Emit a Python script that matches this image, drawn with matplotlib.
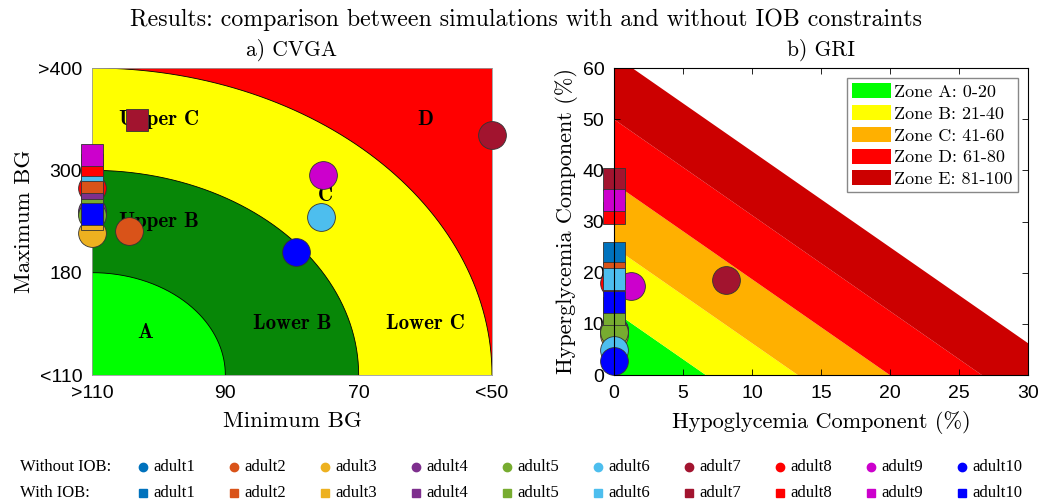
import numpy as np
import matplotlib
matplotlib.use("Agg")
import matplotlib.pyplot as plt
from matplotlib.patches import Polygon, Patch

# ---------------- data ----------------
subjects = ["adult1", "adult2", "adult3", "adult4", "adult5",
            "adult6", "adult7", "adult8", "adult9", "adult10"]
colors = ["#0072BD", "#D95319", "#EDB120", "#7E2F8E", "#77AC30",
          "#4DBEEE", "#A2142F", "#FF0000", "#CC00CC", "#0000FF"]

# CVGA in normalised units (0 = ">110"/"<110", 3 = "<50"/">400")
cvga_xticklabels = [">110", "90", "70", "<50"]
cvga_yticklabels = ["<110", "180", "300", ">400"]
cvga_x_without = [0.00, 0.28, 0.00, 0.00, 0.00, 1.72, 3.00, 0.00, 1.73, 1.53]
cvga_y_without = [1.58, 1.41, 1.39, 1.60, 1.56, 1.54, 2.35, 1.83, 1.95, 1.20]
cvga_x_with = [0.00, 0.00, 0.00, 0.00, 0.00, 0.00, 0.34, 0.00, 0.00, 0.00]
cvga_y_with = [1.59, 1.84, 1.52, 1.67, 1.61, 2.00, 2.49, 2.05, 2.145, 1.57]
cvga_zone_radii = [3, 2, 1]
cvga_zone_colors = ["#FFFF00", "#078707", "#00FF00"]
cvga_zone_text = ["A", "Lower B", "Lower C", "Upper B", "Upper C", "C", "D"]
cvga_zone_text_xy = [(0.4, 0.42), (1.5, 0.5), (2.5, 0.5), (0.5, 1.5),
                     (0.5, 2.5), (1.75, 1.75), (2.5, 2.5)]

# GRI components (%)
gri_hypo_without = [0.0, 0.0, 0.0, 0.0, 0.0, 0.0, 8.1, 0.0, 1.2, 0.0]
gri_hyper_without = [8.6, 8.8, 7.9, 8.7, 8.4, 4.9, 18.6, 18.0, 17.3, 2.7]
gri_hypo_with = [0.0, 0.0, 0.0, 0.0, 0.0, 0.0, 0.0, 0.0, 0.0, 0.0]
gri_hyper_with = [23.8, 19.9, 12.5, 13.0, 11.9, 18.75, 38.4, 31.6, 34.2, 14.3]
gri_zone_bounds = [0, 20, 40, 60, 80, 100]
gri_zone_labels = ["Zone A: 0-20", "Zone B: 21-40", "Zone C: 41-60",
                   "Zone D: 61-80", "Zone E: 81-100"]
gri_zone_colors = ["#00FF00", "#FFFF00", "#FFB000", "#FF0000", "#CC0000"]

# ---------------- figure ----------------
SERIF = "cmr10"
SERIF_B = "cmb10"
SANS = "Liberation Sans"
plt.rcParams["axes.unicode_minus"] = False

fig = plt.figure(figsize=(10.4, 5.04), dpi=100)
W, H = 1040, 504

def box(x0, y0, x1, y1):
    return [x0 / W, 1 - y1 / H, (x1 - x0) / W, (y1 - y0) / H]

fig.text(0.5 + 6 / W, 1 - 20 / H, "Results: comparison between simulations with and without IOB constraints",
         ha="center", va="center", family=SERIF, fontsize=17.2)

# ---- a) CVGA ----
ax1 = fig.add_axes(box(92, 68, 492, 375))
ax1.set_xlim(0, 3)
ax1.set_ylim(0, 3)
ax1.set_facecolor("#FF0000")
th = np.linspace(0, np.pi / 2, 200)
for r, c in zip(cvga_zone_radii, cvga_zone_colors):
    pts = np.column_stack([np.r_[0, r * np.cos(th)], np.r_[0, r * np.sin(th)]])
    ax1.add_patch(Polygon(pts, closed=True, facecolor=c, edgecolor="none", zorder=1))
    ax1.plot(r * np.cos(th), r * np.sin(th), color="black", lw=0.6, zorder=1.5)
for t, (tx, ty) in zip(cvga_zone_text, cvga_zone_text_xy):
    ax1.text(tx, ty, t, ha="center", va="center", family=SERIF_B, fontsize=15, zorder=2)
for x, y, c in zip(cvga_x_without, cvga_y_without, colors):
    ax1.plot(x, y, "o", ms=20, mfc=c, mec="#333333", mew=0.6, clip_on=False, zorder=3)
for x, y, c in zip(cvga_x_with, cvga_y_with, colors):
    ax1.plot(x, y, "s", ms=16, mfc=c, mec="#333333", mew=0.6, clip_on=False, zorder=4)
ax1.set_xticks(range(4))
ax1.set_xticklabels(cvga_xticklabels)
ax1.set_yticks(range(4))
ax1.set_yticklabels(cvga_yticklabels)
ax1.tick_params(length=0, labelsize=14, pad=7)
for lab in ax1.get_xticklabels() + ax1.get_yticklabels():
    lab.set_family(SANS)
for s in ax1.spines.values():
    s.set_color("#999999")
    s.set_linewidth(0.6)
ax1.set_xlabel("Minimum BG", family=SERIF, fontsize=16.5, labelpad=7)
ax1.set_ylabel("Maximum BG", family=SERIF, fontsize=16.5, labelpad=3)
ax1.set_title("a) CVGA", family=SERIF, fontsize=15.5, pad=9)

# ---- b) GRI ----
ax2 = fig.add_axes(box(614, 68, 1028, 375))
ax2.set_xlim(0, 30)
ax2.set_ylim(0, 60)
xx = np.linspace(0, 30, 400)
for lo, hi, c, lab in zip(gri_zone_bounds[:-1], gri_zone_bounds[1:], gri_zone_colors, gri_zone_labels):
    y_lo = np.clip((lo - 3.0 * xx) / 1.6, 0, None)
    y_hi = np.clip((hi - 3.0 * xx) / 1.6, 0, None)
    ax2.fill_between(xx, y_lo, y_hi, where=y_hi > y_lo, color=c, lw=0, zorder=1, label=lab)
for x, y, c in zip(gri_hypo_without, gri_hyper_without, colors):
    ax2.plot(x, y, "o", ms=20, mfc=c, mec="#333333", mew=0.6, clip_on=False, zorder=3)
for x, y, c in zip(gri_hypo_with, gri_hyper_with, colors):
    ax2.plot(x, y, "s", ms=16, mfc=c, mec="#333333", mew=0.6, clip_on=False, zorder=4)
ax2.set_xticks(np.arange(0, 31, 5))
ax2.set_yticks(np.arange(0, 61, 10))
ax2.tick_params(direction="in", top=True, right=True, length=4, labelsize=14, pad=7, width=0.6)
for lab in ax2.get_xticklabels() + ax2.get_yticklabels():
    lab.set_family(SANS)
for s in ax2.spines.values():
    s.set_linewidth(0.8)
    s.set_zorder(5)
ax2.set_xlabel("Hypoglycemia Component (%)", family=SERIF, fontsize=16, labelpad=7)
ax2.set_ylabel("Hyperglycemia Component (%)", family=SERIF, fontsize=16, labelpad=3)
ax2.set_title("b) GRI", family=SERIF, fontsize=15.5, pad=9)
handles = [Patch(facecolor=c, edgecolor="none") for c in gri_zone_colors]
leg = ax2.legend(handles, gri_zone_labels, loc="upper right", bbox_to_anchor=(0.975, 0.968),
                 prop={"family": SERIF, "size": 13}, handlelength=2.15, handleheight=0.9,
                 handletextpad=0.15, labelspacing=0.28, borderpad=0.3, borderaxespad=0.0,
                 fancybox=False, framealpha=1, edgecolor="#888888")
leg.get_frame().set_linewidth(1.0)
leg.set_zorder(6)

# ---- bottom legend ----
axl = fig.add_axes([0, 0, 1, 1], zorder=-1)
axl.set_xlim(0, W)
axl.set_ylim(H, 0)
axl.axis("off")
rows = [("Without IOB:", "o", 467), ("With IOB:", "s", 493)]
for title, mk, ry in rows:
    axl.text(20, ry, title, ha="left", va="center", family="Liberation Serif", fontsize=12)
    for i, (name, c) in enumerate(zip(subjects, colors)):
        mx = 143 + i * 91
        axl.plot(mx, ry, mk, ms=6, mfc=c, mec=c)
        axl.text(mx + 10, ry, name, ha="left", va="center", family="Liberation Serif", fontsize=12)

fig.savefig("out.png", dpi=100)
